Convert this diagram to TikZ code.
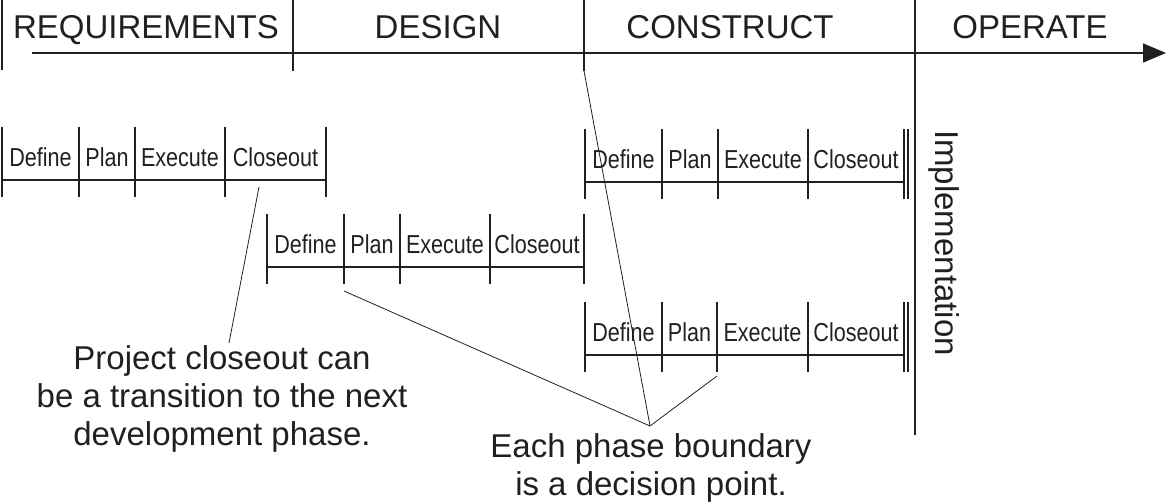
\documentclass[tikz,border=0pt]{standalone}
\usepackage{fontspec}
\setmainfont{Liberation Sans}
\newfontfamily\condfont[FakeStretch=0.83]{Liberation Sans}
\usetikzlibrary{arrows.meta}
\definecolor{ink}{HTML}{231F20}
\newcommand\phaseblock[7]{%
  \foreach \xx in {#1,#2,#3,#4,#5} \draw[bar] (\xx,#6-53) -- (\xx,#6+17);
  \draw[bar] (#1,#6) -- (#5,#6);
  \node[cell] (#7-def) at ({(#1+#2)/2},#6-14) {Define};
  \node[cell] (#7-plan) at ({(#2+#3)/2},#6-14) {Plan};
  \node[cell] (#7-exe) at ({(#3+#4)/2},#6-14) {Execute};
  \node[cell] (#7-clo) at ({(#4+#5)/2},#6-14) {Closeout};
}
\begin{document}
\begin{tikzpicture}[x=1pt,y=-1pt,
  bar/.style={draw=ink,line width=1.6pt},
  axis/.style={draw=ink,line width=1.8pt},
  lead/.style={draw=ink,line width=0.8pt},
  phase/.style={font=\fontsize{33}{33}\selectfont,text=ink,inner sep=0pt,anchor=base},
  cell/.style={font=\condfont\fontsize{26}{26}\selectfont,text=ink,inner sep=0pt,anchor=base},
  note/.style={font=\fontsize{33}{38}\selectfont,text=ink,inner sep=0pt,align=center,anchor=north}]
\useasboundingbox (0,0) rectangle (1166,503);
% phases
\node[phase] (req) at (146,38) {REQUIREMENTS};
\node[phase] (des) at (438,38) {DESIGN};
\node[phase] (con) at (730,38) {CONSTRUCT};
\node[phase] (ope) at (1030,38) {OPERATE};
\coordinate (d0t) at (2,0);   \coordinate (d0b) at (2,70);
\coordinate (d1t) at (293,0); \coordinate (d1b) at (293,71);
\coordinate (d2t) at (584,0); \coordinate (d2b) at (584,71);
\coordinate (d3t) at (915,0); \coordinate (d3b) at (915,435);
\draw[axis] (d0t) -- (d0b);
\draw[axis] (d1t) -- (d1b);
\draw[axis] (d2t) -- (d2b);
\draw[axis] (d3t) -- (d3b);
\coordinate (tl) at (32,53); \coordinate (tr) at (1166,53);
\draw[axis,-{Triangle[length=23pt,width=19pt]}] (tl) -- (tr);
% blocks
\phaseblock{2}{79}{135}{225}{326}{180}{b1}
\phaseblock{267}{344}{400}{490}{584}{267}{b2}
\phaseblock{585}{662}{718}{808}{904}{182}{b3}
\phaseblock{585}{662}{717}{808}{904}{355}{b4}
\draw[bar] (908,129) -- (908,199);
\draw[bar] (908,302) -- (908,372);
% implementation
\node[font=\fontsize{33}{33}\selectfont,text=ink,inner sep=0pt,rotate=-90] (impl) at (944,243) {Implementation};
% notes
\node[note] (n1) at (222,345) {Project closeout can\\be a transition to the next\\development phase.};
\node[note] (n2) at (651,433) {Each phase boundary\\is a decision point.};
\coordinate (c1a) at (259,187); \coordinate (c1b) at (229,343);
\coordinate (p) at (650,426);
\coordinate (c2a) at (344,291);
\coordinate (c3a) at (717,376);
\draw[lead] (c1a) -- (c1b);
\draw[lead] (c2a) -- (p);
\draw[lead] (c3a) -- (p);
\draw[lead] (d2b) -- (p);
\end{tikzpicture}
\end{document}
